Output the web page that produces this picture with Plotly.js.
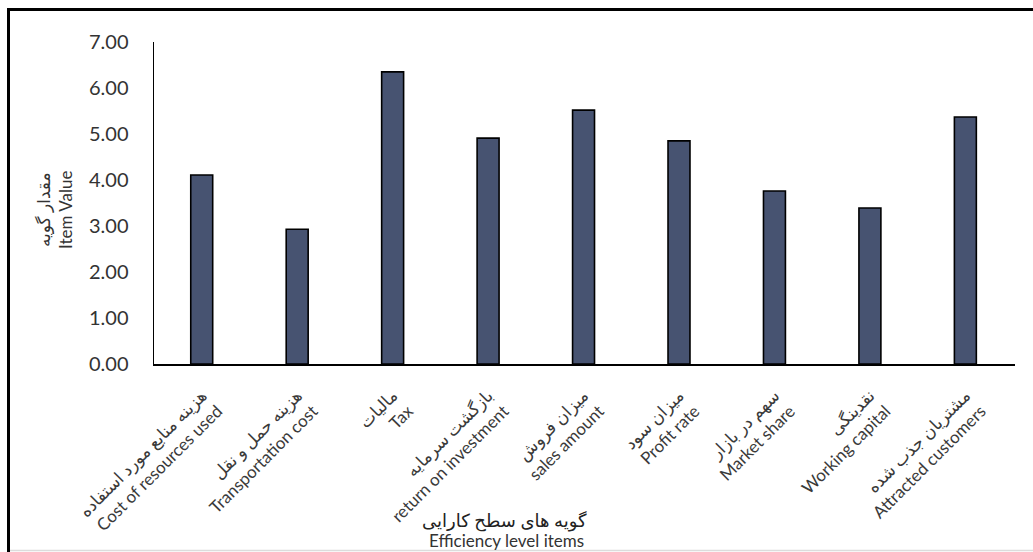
<!DOCTYPE html>
<html>
<head>
<meta charset="utf-8">
<script src="https://cdn.plot.ly/plotly-3.0.1.min.js"></script>
<style>
  html, body { margin: 0; padding: 0; background: #ffffff; }
  #chart { width: 1033px; height: 552px; }
</style>
</head>
<body>
<div id="chart"></div>
<script>
// ---- data ----
const categoriesFa = [
  "هزینه منابع مورد استفاده",
  "هزینه حمل و نقل",
  "مالیات",
  "بازگشت سرمایه",
  "میزان فروش",
  "میزان سود",
  "سهم در بازار",
  "نقدینگی",
  "مشتریان جذب شده"
];
const categoriesEn = [
  "Cost of resources used",
  "Transportation cost",
  "Tax",
  "return on investment",
  "sales amount",
  "Profit rate",
  "Market share",
  "Working capital",
  "Attracted customers"
];
const itemValues = [4.11, 2.93, 6.35, 4.91, 5.52, 4.85, 3.76, 3.39, 5.37];
const yTickValues = [0, 1, 2, 3, 4, 5, 6, 7];
const yTickLabels = ["0.00", "1.00", "2.00", "3.00", "4.00", "5.00", "6.00", "7.00"];
const xTitleFa = "گویه های سطح کارایی";
const xTitleEn = "Efficiency level items";
const yTitleFa = "مقدار گویه";
const yTitleEn = "Item Value";

// ---- layout geometry (pixels) ----
const W = 1033, H = 552;
const M = { l: 154, r: 18, t: 42, b: 188 };
const pw = W - M.l - M.r, ph = H - M.t - M.b;
const fx = px => (px - M.l) / pw;
const fy = py => (H - M.b - py) / ph;

const xKeys = categoriesEn.map((c, i) => "c" + i);
const tickText = categoriesEn.map((c, i) => categoriesFa[i] + "<br>" + c);

const trace = {
  type: "bar",
  x: xKeys,
  y: itemValues,
  marker: { color: "#475371", line: { color: "#000000", width: 1.6 } },
  hoverinfo: "y"
};

const font = "Lato, 'Open Sans', 'DejaVu Sans', sans-serif";

const layout = {
  width: W, height: H,
  margin: M,
  paper_bgcolor: "#ffffff",
  plot_bgcolor: "#ffffff",
  showlegend: false,
  bargap: 0.77,
  font: { family: font, color: "#333333" },
  xaxis: {
    type: "category",
    tickvals: xKeys,
    ticktext: tickText,
    tickangle: -45,
    tickfont: { size: 17, color: "#3a3a3a", family: font },
    showline: true, linecolor: "#000000", linewidth: 2,
    ticks: "outside", ticklen: 13, tickcolor: "rgba(0,0,0,0)",
    showgrid: false, zeroline: false,
    range: [-0.5, 8.52]
  },
  yaxis: {
    range: [0, 7],
    tickvals: yTickValues,
    ticktext: yTickLabels,
    tickfont: { size: 20, color: "#333333", family: font },
    showline: true, linecolor: "#000000", linewidth: 1.5,
    ticks: "outside", ticklen: 20, tickcolor: "rgba(0,0,0,0)",
    showgrid: false, zeroline: false
  },
  annotations: [
    { xref: "paper", yref: "paper", x: fx(54), y: fy(210), textangle: -90,
      text: yTitleFa + "<br>" + yTitleEn, showarrow: false,
      font: { size: 17, color: "#333333", family: font },
      xanchor: "center", yanchor: "middle" },
    { xref: "paper", yref: "paper", x: fx(504), y: fy(520),
      text: xTitleFa, showarrow: false,
      font: { size: 18, color: "#222222", family: font },
      xanchor: "center", yanchor: "middle" },
    { xref: "paper", yref: "paper", x: fx(506), y: fy(540),
      text: xTitleEn, showarrow: false,
      font: { size: 17, color: "#333333", family: font },
      xanchor: "center", yanchor: "middle" }
  ],
  shapes: [
    { type: "line", xref: "paper", yref: "paper", x0: fx(7), x1: fx(1033), y0: fy(9.5), y1: fy(9.5),
      line: { color: "#000000", width: 3 } },
    { type: "line", xref: "paper", yref: "paper", x0: fx(8.5), x1: fx(8.5), y0: fy(8), y1: fy(552),
      line: { color: "#000000", width: 3 } },
    { type: "line", xref: "paper", yref: "paper", x0: fx(10), x1: fx(1033), y0: fy(550.5), y1: fy(550.5),
      layer: "below", line: { color: "#dcdcdc", width: 1.5 } }
  ]
};

Plotly.newPlot("chart", [trace], layout, { displayModeBar: false, staticPlot: true });
</script>
</body>
</html>
